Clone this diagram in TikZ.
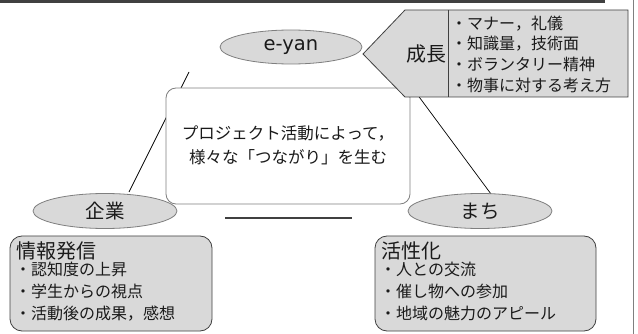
\documentclass[tikz,border=0pt]{standalone}
\usepackage{fontspec}
\setmainfont{Noto Sans CJK JP}
\newfontfamily\latinfont{DejaVu Sans}
\usetikzlibrary{shapes.geometric}
\definecolor{fillg}{HTML}{D9D9D9}
\definecolor{edgeg}{HTML}{7F7F7F}
\definecolor{darkg}{HTML}{404040}
\definecolor{txt}{HTML}{1A1A1A}
\tikzset{
  party/.style={ellipse, draw=edgeg, fill=fillg, line width=0.8pt, inner sep=0pt, font=\fontsize{19.5}{22}\selectfont, text=txt},
  infobox/.style={draw=darkg, fill=fillg, rounded corners=12pt, line width=0.8pt},
  plain/.style={draw=black, line width=0.7pt},
  lbl/.style={font=\fontsize{16}{20.7}\selectfont, text=txt, align=left, inner sep=0pt},
  head/.style={font=\fontsize{20}{22}\selectfont, text=txt, inner sep=0pt},
}
\begin{document}
\begin{tikzpicture}[x=1pt,y=-1pt]
\useasboundingbox (0,0) rectangle (638,334);
% frame lines
\draw[darkg, line width=3pt] (0,1.5) -- (605,1.5);
\draw[edgeg, line width=0.8pt] (633,0) -- (633,334);
% connectors
\coordinate (l1) at (189,72);
\coordinate (l2) at (129,192);
\coordinate (r1) at (414,90);
\coordinate (r2) at (491,194);
\draw[plain] (l1) -- (l2);
\draw[plain] (r1) -- (r2);
% centre box
\node[draw=edgeg, fill=white, rounded corners=10pt, line width=0.8pt, minimum width=244, minimum height=116] (centre) at (288,146) {};
\node[lbl, font=\fontsize{16.5}{24}\selectfont, align=center] (ctext) at (288,145) {プロジェクト活動によって，\\様々な「つながり」を生む};
% e-yan
\node[party, minimum width=142, minimum height=34, font=\latinfont\fontsize{19.5}{22}\selectfont] (eyan) at (291,47) {e-yan};
% growth arrow
\draw[draw=darkg, fill=fillg, line width=0.8pt] (363,54) -- (405,10) -- (628,10) -- (628,97) -- (405,97) -- cycle;
\coordinate (d1) at (448,10);
\coordinate (d2) at (448,97);
\draw[darkg, line width=0.8pt] (d1) -- (d2);
\node[head] (grow) at (426,54) {成長};
\node[lbl, anchor=west] (growlist) at (451,54) {・マナー，礼儀\\・知識量，技術面\\・ボランタリー精神\\・物事に対する考え方};
% bottom parties
\node[party, minimum width=144, minimum height=35] (kigyo) at (105,211) {企業};
\node[party, minimum width=144, minimum height=35] (machi) at (480,211) {まち};
\coordinate (h1) at (225,218);
\coordinate (h2) at (352,218);
\draw[darkg, line width=2pt] (h1) -- (h2);
% boxes
\draw[infobox] (10,236) rectangle (212,331);
\draw[infobox] (375,236) rectangle (596,331);
\node[head, anchor=west] (kh) at (16,251) {情報発信};
\node[lbl, anchor=north west, font=\fontsize{16}{22}\selectfont] (kl) at (15,262) {・認知度の上昇\\・学生からの視点\\・活動後の成果，感想};
\node[head, anchor=west] (mh) at (381,251) {活性化};
\node[lbl, anchor=north west, font=\fontsize{16}{22}\selectfont] (ml) at (380,262) {・人との交流\\・催し物への参加\\・地域の魅力のアピール};
\end{tikzpicture}
\end{document}
